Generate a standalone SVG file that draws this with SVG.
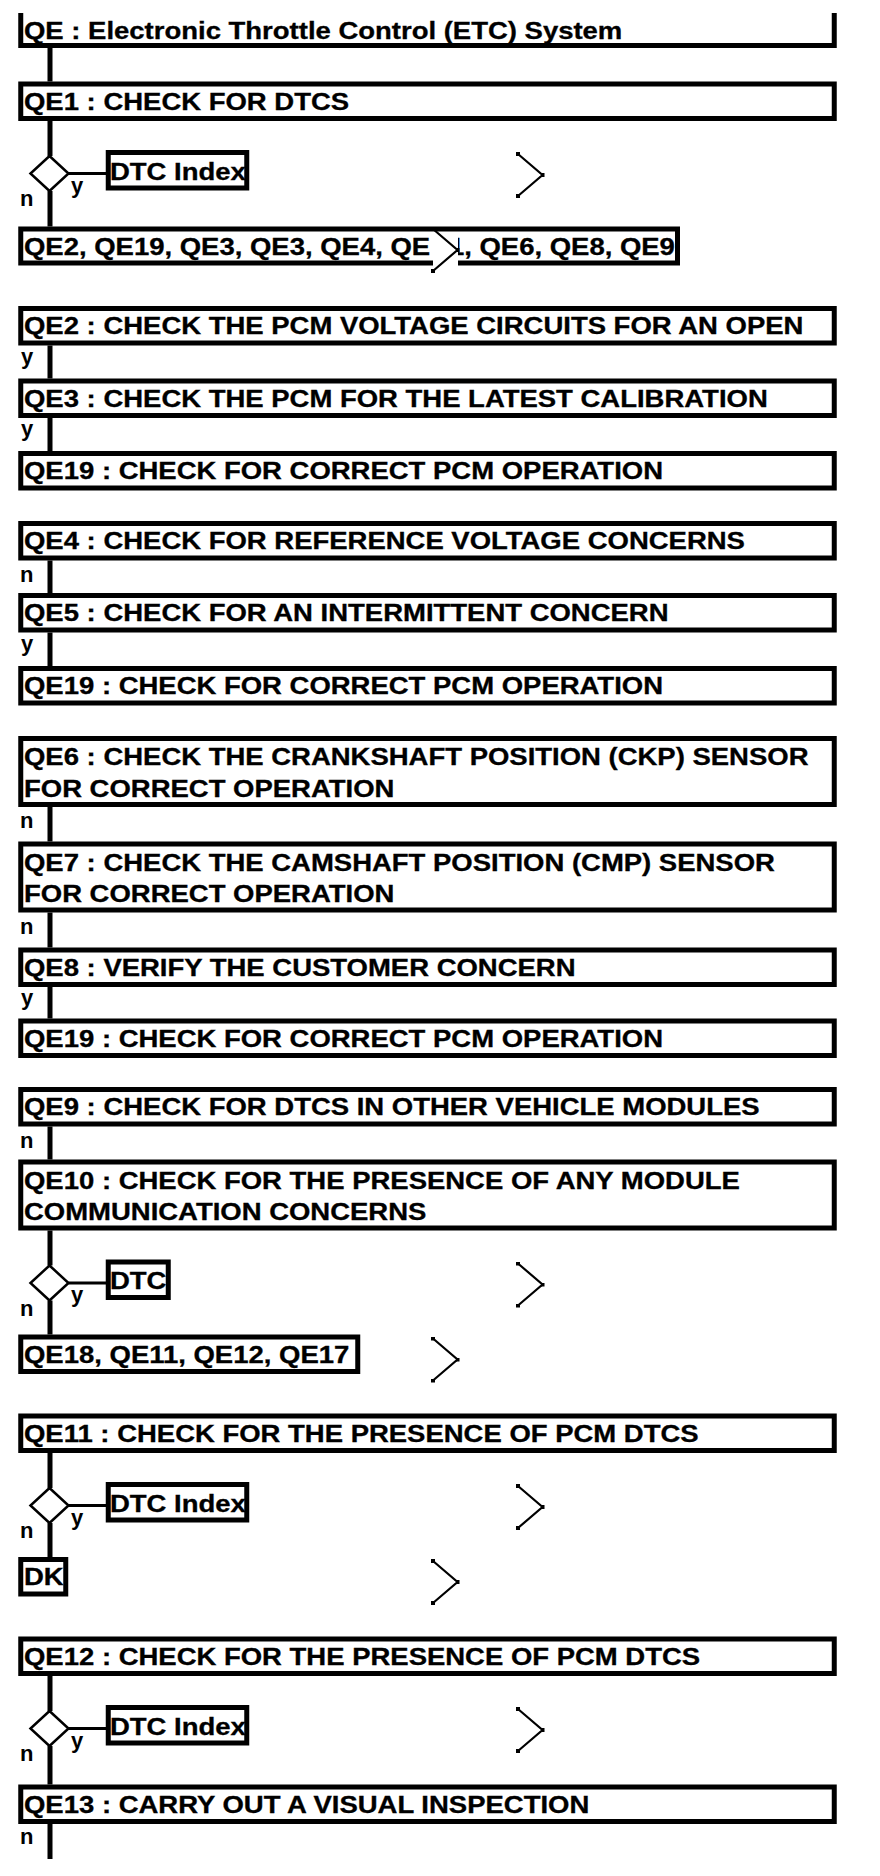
<svg xmlns="http://www.w3.org/2000/svg" width="880" height="1876" viewBox="0 0 880 1876">
<style>
.t{font-family:"Liberation Sans",Arial,sans-serif;font-weight:bold;font-size:23px;fill:#000;stroke:#000;stroke-width:0.3}
.l{font-family:"Liberation Sans",Arial,sans-serif;font-weight:bold;font-size:22px;fill:#000}
.box{fill:#fff;stroke:#000;stroke-width:5}
.trunk{fill:none;stroke:#000;stroke-width:5}
.thin{fill:none;stroke:#000;stroke-width:3}
.dia{fill:#fff;stroke:#000;stroke-width:2.5}
.chev{fill:none;stroke:#000;stroke-width:2.2;marker-start:url(#dot);marker-mid:url(#dot);marker-end:url(#dot)}
</style>
<defs>
<marker id="dot" markerUnits="userSpaceOnUse" markerWidth="4" markerHeight="4" refX="2" refY="2" viewBox="0 0 4 4"><rect width="4" height="4" fill="#000"/></marker>
<g id="chevron"><rect x="0" y="3.5" width="25" height="36" fill="#fff"/><polyline class="chev" points="0,0 24.5,21 0,42"/></g>
</defs>
<rect width="880" height="1876" fill="#fff"/>

<g id="connectors">
<path class="trunk" d="M50,48V81.5 M50,121V156 M50,191V226.5"/>
<path class="trunk" d="M50,345.5V378.5 M50,418V451"/>
<path class="trunk" d="M50,560.5V593 M50,632.5V666"/>
<path class="trunk" d="M50,807V841.5 M50,912.5V947.5 M50,987V1018.5"/>
<path class="trunk" d="M50,1126.5V1159.5 M50,1230.5V1265.5 M50,1300.5V1334.5"/>
<path class="trunk" d="M50,1453V1488 M50,1523V1557"/>
<path class="trunk" d="M50,1676V1711 M50,1746V1784.5 M50,1824V1859"/>
<path class="thin" d="M68.5,173.5H106 M68.5,1283H106 M68.5,1505.5H106 M68.5,1728.5H106"/>
<g class="l">
<text x="71" y="193">y</text><text x="20" y="206">n</text>
<text x="21" y="363.5">y</text>
<text x="21" y="436">y</text>
<text x="20" y="581.5">n</text>
<text x="21" y="650.5">y</text>
<text x="20" y="828">n</text>
<text x="20" y="933.5">n</text>
<text x="21" y="1005">y</text>
<text x="20" y="1147.5">n</text>
<text x="71" y="1302">y</text><text x="20" y="1315.5">n</text>
<text x="71" y="1524.5">y</text><text x="20" y="1538">n</text>
<text x="71" y="1747.5">y</text><text x="20" y="1761">n</text>
<text x="20" y="1844">n</text>
</g>
</g>

<g id="title">
<path class="trunk" d="M20.75,13V45.5H834.25V13"/>
<text class="t" transform="translate(24,39) scale(1.195,1)">QE : Electronic Throttle Control (ETC) System</text>
</g>
<g id="QE1">
<rect class="box" x="20.75" y="84" width="813.5" height="34.5"/>
<text class="t" transform="translate(24,109.5) scale(1.195,1)">QE1 : CHECK FOR DTCS</text>
</g>
<g id="dec1">
<polygon class="dia" points="49.5,156 68.5,173.5 49.5,191 30.5,173.5"/>
</g>
<g id="dtc1">
<rect class="box" x="108.25" y="152.5" width="138.5" height="35.5"/>
<text class="t" transform="translate(110,179.5) scale(1.195,1)">DTC Index</text>
</g>
<g id="list1">
<rect class="box" x="20.75" y="229" width="656.75" height="34"/>
<text class="t" transform="translate(24,254.5) scale(1.195,1)">QE2, QE19, QE3, QE3, QE4, QE<tspan x="343.5">1</tspan><tspan x="355.6">1, QE6, QE8, QE9</tspan></text>
</g>

<g id="QE2">
<rect class="box" x="20.75" y="308.5" width="813.5" height="34.5"/>
<text class="t" transform="translate(24,334) scale(1.195,1)">QE2 : CHECK THE PCM VOLTAGE CIRCUITS FOR AN OPEN</text>
</g>
<g id="QE3">
<rect class="box" x="20.75" y="381" width="813.5" height="34.5"/>
<text class="t" transform="translate(24,406.5) scale(1.195,1)">QE3 : CHECK THE PCM FOR THE LATEST CALIBRATION</text>
</g>
<g id="QE19a">
<rect class="box" x="20.75" y="453.5" width="813.5" height="34.5"/>
<text class="t" transform="translate(24,479) scale(1.195,1)">QE19 : CHECK FOR CORRECT PCM OPERATION</text>
</g>

<g id="QE4">
<rect class="box" x="20.75" y="523.5" width="813.5" height="34.5"/>
<text class="t" transform="translate(24,549) scale(1.195,1)">QE4 : CHECK FOR REFERENCE VOLTAGE CONCERNS</text>
</g>
<g id="QE5">
<rect class="box" x="20.75" y="595.5" width="813.5" height="34.5"/>
<text class="t" transform="translate(24,621) scale(1.195,1)">QE5 : CHECK FOR AN INTERMITTENT CONCERN</text>
</g>
<g id="QE19b">
<rect class="box" x="20.75" y="668.5" width="813.5" height="34.5"/>
<text class="t" transform="translate(24,694) scale(1.195,1)">QE19 : CHECK FOR CORRECT PCM OPERATION</text>
</g>

<g id="QE6">
<rect class="box" x="20.75" y="738.5" width="813.5" height="66"/>
<text class="t" transform="translate(24,765) scale(1.195,1)">QE6 : CHECK THE CRANKSHAFT POSITION (CKP) SENSOR</text>
<text class="t" transform="translate(24,796.5) scale(1.195,1)">FOR CORRECT OPERATION</text>
</g>
<g id="QE7">
<rect class="box" x="20.75" y="844" width="813.5" height="66"/>
<text class="t" transform="translate(24,870.5) scale(1.195,1)">QE7 : CHECK THE CAMSHAFT POSITION (CMP) SENSOR</text>
<text class="t" transform="translate(24,902) scale(1.195,1)">FOR CORRECT OPERATION</text>
</g>
<g id="QE8">
<rect class="box" x="20.75" y="950" width="813.5" height="34.5"/>
<text class="t" transform="translate(24,975.5) scale(1.195,1)">QE8 : VERIFY THE CUSTOMER CONCERN</text>
</g>
<g id="QE19c">
<rect class="box" x="20.75" y="1021" width="813.5" height="34.5"/>
<text class="t" transform="translate(24,1046.5) scale(1.195,1)">QE19 : CHECK FOR CORRECT PCM OPERATION</text>
</g>

<g id="QE9">
<rect class="box" x="20.75" y="1089.5" width="813.5" height="34.5"/>
<text class="t" transform="translate(24,1115) scale(1.195,1)">QE9 : CHECK FOR DTCS IN OTHER VEHICLE MODULES</text>
</g>
<g id="QE10">
<rect class="box" x="20.75" y="1162" width="813.5" height="66"/>
<text class="t" transform="translate(24,1188.5) scale(1.195,1)">QE10 : CHECK FOR THE PRESENCE OF ANY MODULE</text>
<text class="t" transform="translate(24,1220) scale(1.195,1)">COMMUNICATION CONCERNS</text>
</g>
<g id="dec2">
<polygon class="dia" points="49.5,1265.5 68.5,1283 49.5,1300.5 30.5,1283"/>
</g>
<g id="dtc2">
<rect class="box" x="108.25" y="1262" width="60" height="35.5"/>
<text class="t" transform="translate(110,1289) scale(1.195,1)">DTC</text>
</g>
<g id="list2">
<rect class="box" x="20.75" y="1337" width="337" height="34.5"/>
<text class="t" transform="translate(24,1362.5) scale(1.195,1)">QE18, QE11, QE12, QE17</text>
</g>

<g id="QE11">
<rect class="box" x="20.75" y="1416" width="813.5" height="34.5"/>
<text class="t" transform="translate(24,1441.5) scale(1.195,1)">QE11 : CHECK FOR THE PRESENCE OF PCM DTCS</text>
</g>
<g id="dec3">
<polygon class="dia" points="49.5,1488 68.5,1505.5 49.5,1523 30.5,1505.5"/>
</g>
<g id="dtc3">
<rect class="box" x="108.25" y="1484.5" width="138.5" height="35.5"/>
<text class="t" transform="translate(110,1511.5) scale(1.195,1)">DTC Index</text>
</g>
<g id="DK">
<rect class="box" x="20.75" y="1559.5" width="45" height="34.5"/>
<text class="t" transform="translate(24,1585) scale(1.195,1)">DK</text>
</g>

<g id="QE12">
<rect class="box" x="20.75" y="1639" width="813.5" height="34.5"/>
<text class="t" transform="translate(24,1664.5) scale(1.195,1)">QE12 : CHECK FOR THE PRESENCE OF PCM DTCS</text>
</g>
<g id="dec4">
<polygon class="dia" points="49.5,1711 68.5,1728.5 49.5,1746 30.5,1728.5"/>
</g>
<g id="dtc4">
<rect class="box" x="108.25" y="1707.5" width="138.5" height="35.5"/>
<text class="t" transform="translate(110,1734.5) scale(1.195,1)">DTC Index</text>
</g>
<g id="QE13">
<rect class="box" x="20.75" y="1787" width="813.5" height="34.5"/>
<text class="t" transform="translate(24,1812.5) scale(1.195,1)">QE13 : CARRY OUT A VISUAL INSPECTION</text>
</g>

<g id="chevrons">
<use href="#chevron" x="518" y="154"/>
<use href="#chevron" x="433" y="229"/>
<use href="#chevron" x="518" y="1263.5"/>
<use href="#chevron" x="433" y="1338.5"/>
<use href="#chevron" x="518" y="1486"/>
<use href="#chevron" x="433" y="1561"/>
<use href="#chevron" x="518" y="1709"/>
</g>
</svg>
